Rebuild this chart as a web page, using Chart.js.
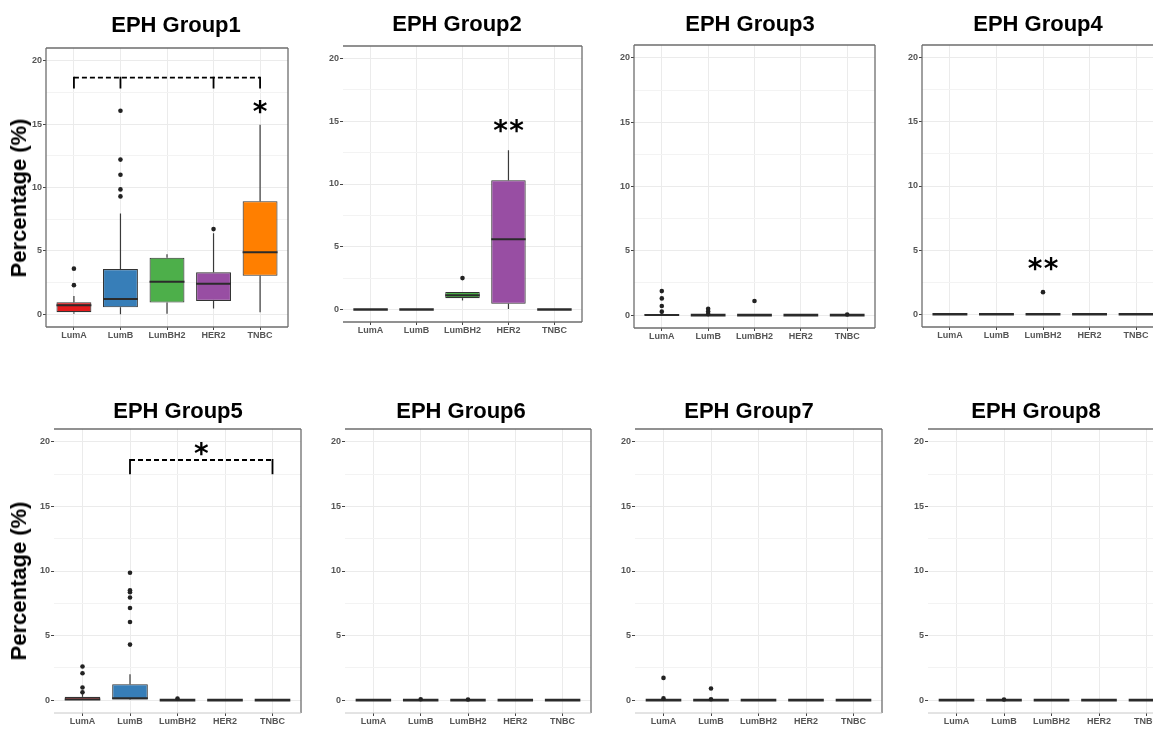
<!DOCTYPE html>
<html><head><meta charset="utf-8">
<script src="https://cdn.jsdelivr.net/npm/chart.js@4.4.1/dist/chart.umd.min.js"></script>
<style>
html,body{margin:0;padding:0;background:#fff;overflow:hidden;width:1153px;height:731px;position:relative;}
.pc{position:absolute;}
.title{position:absolute;font:bold 22px "Liberation Sans",Arial,sans-serif;line-height:22px;color:#000;white-space:nowrap;transform:translateX(-50%);}
.ylab{position:absolute;font:bold 22px "Liberation Sans",Arial,sans-serif;line-height:22px;color:#000;white-space:nowrap;transform:translate(-50%,-50%) rotate(-90deg);}
</style></head>
<body>
<script>
// ---------------- DATA ----------------
const categories = ['LumA','LumB','LumBH2','HER2','TNBC'];
const yTickLabels = [0,5,10,15,20];
const yMinorGrid = [2.5,7.5,12.5,17.5];
const panelTitles = ['EPH Group1','EPH Group2','EPH Group3','EPH Group4','EPH Group5','EPH Group6','EPH Group7','EPH Group8'];
const yAxisTitle = 'Percentage (%)';
const boxColors = ['#E41A1C','#377EB8','#4DAF4A','#984EA3','#FF7F00'];

// stats per category: [lower whisker, Q1, median, Q3, upper whisker]
const g1Stats = [[0.05,0.17,0.72,0.95,1.45],[0,0.55,1.2,3.57,7.95],[0.05,0.93,2.56,4.46,4.74],[0.45,1.06,2.42,3.31,6.4],[0.16,3.04,4.9,8.92,14.95]];
const g1Out   = [[2.3,3.6],[9.3,9.85,11.0,12.2,16.05],[],[6.72],[]];
const g2Stats = [[0,0,0,0,0],[0,0,0,0,0],[0.72,0.9,1.14,1.4,1.4],[0.04,0.45,5.6,10.3,12.7],[0,0,0,0,0]];
const g2Out   = [[],[],[2.5],[],[]];
const g3Stats = [[0,0,0.02,0.08,0.15],[0,0,0,0,0],[0,0,0,0,0],[0,0,0,0,0],[0,0,0,0,0]];
const g3Out   = [[0.27,0.71,1.3,1.87],[0.08,0.29,0.5],[1.1],[],[0.05]];
const g4Stats = [[0,0,0,0,0],[0,0,0,0,0],[0,0,0,0,0],[0,0,0,0,0],[0,0,0,0,0]];
const g4Out   = [[],[],[1.72],[],[]];
const g5Stats = [[0,0,0.05,0.25,0.45],[0,0.05,0.15,1.23,2.0],[0,0,0,0,0],[0,0,0,0,0],[0,0,0,0,0]];
const g5Out   = [[0.6,0.97,2.08,2.6],[4.3,6.05,7.13,7.95,8.35,8.5,9.87],[0.12],[],[]];
const g6Stats = [[0,0,0,0,0],[0,0,0,0,0],[0,0,0,0,0],[0,0,0,0,0],[0,0,0,0,0]];
const g6Out   = [[],[0.06],[0.05],[],[]];
const g7Stats = [[0,0,0,0,0],[0,0,0,0,0],[0,0,0,0,0],[0,0,0,0,0],[0,0,0,0,0]];
const g7Out   = [[0.13,1.72],[0.06,0.9],[],[],[]];
const g8Stats = [[0,0,0,0,0],[0,0,0,0,0],[0,0,0,0,0],[0,0,0,0,0],[0,0,0,0,0]];
const g8Out   = [[],[0.05],[],[],[]];

// significance marks: bracket (category indices), stars
const g1Bracket = {from:0, to:4, y:18.66, drop:17.8, drops:[0,1,3,4]};
const g5Bracket = {from:1, to:4, y:18.6, drop:17.5, drops:[1,4]};
const g1Stars = [{x:4, y:16.5, text:'*'}];
const g2Stars = [{x:3, y:14.8, text:'**'}];
const g4Stars = [{x:2, y:4.1, text:'**'}];
const g5Stars = [{x:2.5, y:19.6, text:'*'}];

// ---------------- LAYOUT ----------------
const PADL=45, PADT=45, PADR=3, PADB=18;
const panels = [
 {l:46, t:48, r:289, b:327, tx:176, tb:33, sides:'ltrb', ylab:true, stats:g1Stats, out:g1Out, bracket:g1Bracket, stars:g1Stars},
 {l:343,t:46, r:583, b:322, tx:457, tb:32, sides:'trb', stats:g2Stats, out:g2Out, stars:g2Stars},
 {l:634,t:45, r:876, b:328, tx:750, tb:32, sides:'ltrb', stats:g3Stats, out:g3Out},
 {l:922,t:45, r:1165,b:327, tx:1038,tb:32, sides:'ltrb', stats:g4Stats, out:g4Out, stars:g4Stars},
 {l:54, t:429,r:302, b:713, tx:178, tb:419, sides:'tr', faintB:true, ylab:true, stats:g5Stats, out:g5Out, bracket:g5Bracket, stars:g5Stars},
 {l:345,t:429,r:592, b:713, tx:461, tb:419, sides:'tr', faintB:true, stats:g6Stats, out:g6Out},
 {l:635,t:429,r:883, b:713, tx:749, tb:419, sides:'tr', faintB:true, stats:g7Stats, out:g7Out},
 {l:928,t:429,r:1176,b:713, tx:1036,tb:419, sides:'t', faintB:true, stats:g8Stats, out:g8Out}
];

const FONT = '"Liberation Sans", Arial, sans-serif';

const boxPlugin = {
  id:'boxplot',
  beforeDatasetsDraw(chart){
    const p = panels[+chart.canvas.dataset.idx];
    const xs = chart.scales.x, ys = chart.scales.y, ctx = chart.ctx;
    ctx.save();
    ctx.strokeStyle = '#3a3a3a'; ctx.lineWidth = 1.2;
    p.stats.forEach((s,i)=>{
      const x = xs.getPixelForValue(i);
      ctx.beginPath();
      ctx.moveTo(x, ys.getPixelForValue(s[3])); ctx.lineTo(x, ys.getPixelForValue(s[4]));
      ctx.moveTo(x, ys.getPixelForValue(s[1])); ctx.lineTo(x, ys.getPixelForValue(s[0]));
      ctx.stroke();
    });
    ctx.restore();
  },
  afterDatasetDraw(chart,args){
    if(args.meta.type!=='bar') return;
    const p = panels[+chart.canvas.dataset.idx];
    const ys = chart.scales.y, ctx = chart.ctx;
    ctx.save();
    ctx.strokeStyle = '#2b2b2b';
    p.stats.forEach((s,i)=>{
      const el = args.meta.data[i];
      const w = el.width;
      const y = ys.getPixelForValue(s[2]);
      ctx.lineWidth = (s[1]===s[3]) ? 2.6 : 2;
      ctx.beginPath();
      ctx.moveTo(el.x - w/2, y); ctx.lineTo(el.x + w/2, y);
      ctx.stroke();
    });
    ctx.restore();
  },
  afterDraw(chart){
    const p = panels[+chart.canvas.dataset.idx];
    const a = chart.chartArea, ctx = chart.ctx;
    const xs = chart.scales.x, ys = chart.scales.y;
    ctx.save();
    // panel border
    ctx.strokeStyle = '#6e6e6e'; ctx.lineWidth = 1.3;
    ctx.beginPath();
    if(p.sides.includes('t')){ctx.moveTo(a.left,a.top);ctx.lineTo(a.right,a.top);}
    if(p.sides.includes('r')){ctx.moveTo(a.right,a.top);ctx.lineTo(a.right,a.bottom);}
    if(p.sides.includes('b')){ctx.moveTo(a.left,a.bottom);ctx.lineTo(a.right,a.bottom);}
    if(p.sides.includes('l')){ctx.moveTo(a.left,a.top);ctx.lineTo(a.left,a.bottom);}
    ctx.stroke();
    if(p.faintB){
      ctx.strokeStyle='#c8c8c8'; ctx.lineWidth=1;
      ctx.beginPath(); ctx.moveTo(a.left,a.bottom); ctx.lineTo(a.right,a.bottom); ctx.stroke();
    }
    // bracket
    if(p.bracket){
      const br = p.bracket;
      const yy = ys.getPixelForValue(br.y), yd = ys.getPixelForValue(br.drop);
      ctx.strokeStyle = '#000'; ctx.lineWidth = 1.8;
      ctx.setLineDash([5,3]);
      ctx.beginPath();
      ctx.moveTo(xs.getPixelForValue(br.from), yy); ctx.lineTo(xs.getPixelForValue(br.to), yy);
      ctx.stroke();
      ctx.setLineDash([]);
      ctx.beginPath();
      br.drops.forEach(d=>{ const x = xs.getPixelForValue(d); ctx.moveTo(x,yy-0.9); ctx.lineTo(x,yd); });
      ctx.stroke();
    }
    // stars
    if(p.stars){
      ctx.fillStyle = '#000';
      ctx.font = 'bold 28px "DejaVu Sans", sans-serif';
      ctx.textAlign = 'center'; ctx.textBaseline = 'alphabetic';
      p.stars.forEach(s=>{
        const chars = s.text.split('');
        const cx = xs.getPixelForValue(s.x), cy = ys.getPixelForValue(s.y) + 16;
        chars.forEach((ch,k)=>{
          ctx.fillText(ch, cx + (k - (chars.length-1)/2)*16, cy);
        });
      });
    }
    ctx.restore();
  }
};

panels.forEach((p,idx)=>{
  const W = (p.r - p.l) + PADL + PADR, H = (p.b - p.t) + PADT + PADB;
  const div = document.createElement('div');
  div.className = 'pc';
  div.style.left = (p.l - PADL) + 'px'; div.style.top = (p.t - PADT) + 'px';
  div.style.width = W + 'px'; div.style.height = H + 'px';
  const cv = document.createElement('canvas');
  cv.width = W; cv.height = H; cv.style.width = W+'px'; cv.style.height = H+'px';
  cv.dataset.idx = idx;
  div.appendChild(cv);
  document.body.appendChild(div);

  const t = document.createElement('div');
  t.className = 'title'; t.textContent = panelTitles[idx];
  t.style.left = p.tx + 'px'; t.style.top = (p.tb - 18.6) + 'px';
  document.body.appendChild(t);

  if(p.ylab){
    const yl = document.createElement('div');
    yl.className = 'ylab'; yl.textContent = yAxisTitle;
    yl.style.left = '19px'; yl.style.top = ((p.t + p.b)/2 + 10) + 'px';
    document.body.appendChild(yl);
  }

  const outPts = [];
  p.out.forEach((arr,i)=>arr.forEach(v=>outPts.push({x:i,y:v})));

  new Chart(cv, {
    type:'bar',
    data:{
      datasets:[
        {type:'bar', data:p.stats.map((s,i)=>({x:i, y:[s[1], s[3]]})),
         backgroundColor: boxColors, borderColor:'#333', borderWidth:1.1, borderSkipped:false,
         barPercentage:0.75, categoryPercentage:1, order:1},
        {type:'scatter', data:outPts, pointRadius:2.3, pointBackgroundColor:'#222',
         pointBorderWidth:0, showLine:false, order:0}
      ]
    },
    options:{
      responsive:false, animation:false, devicePixelRatio:1,
      layout:{padding:{left:0, top:PADT, right:PADR, bottom:0}},
      plugins:{legend:{display:false}, tooltip:{enabled:false}, title:{display:false}},
      scales:{
        x:{type:'linear', min:-0.6, max:4.6, offset:false,
           afterBuildTicks:(s)=>{ s.ticks = categories.map((c,i)=>({value:i})); },
           afterFit:(s)=>{ s.height = PADB; },
           grid:{color:'#EBEBEB', lineWidth:1, offset:false, drawTicks:true, tickLength:3, tickColor:'#444', tickWidth:1},
           border:{display:false},
           ticks:{autoSkip:false, maxRotation:0, padding:0, color:'#555',
                  font:{family:FONT, size:9, weight:'bold'},
                  callback:(v)=>categories[v]}},
        y:{type:'linear', min:-1, max:21,
           afterBuildTicks:(s)=>{ s.ticks = yTickLabels.concat(yMinorGrid).sort((a,b)=>a-b).map(v=>({value:v})); },
           afterFit:(s)=>{ s.width = PADL; },
           grid:{color:(c)=> (yTickLabels.includes(c.tick.value) ? '#EBEBEB' : '#F3F3F3'),
                 lineWidth:1, drawTicks:true, tickLength:3,
                 tickColor:(c)=> (yTickLabels.includes(c.tick.value) ? '#444' : 'rgba(0,0,0,0)'), tickWidth:1},
           border:{display:false},
           ticks:{autoSkip:false, padding:1, color:'#555',
                  font:{family:FONT, size:9, weight:'bold'},
                  callback:(v)=> yTickLabels.includes(v) ? String(v) : ''}}
      }
    },
    plugins:[boxPlugin]
  });
});
</script>
</body></html>
